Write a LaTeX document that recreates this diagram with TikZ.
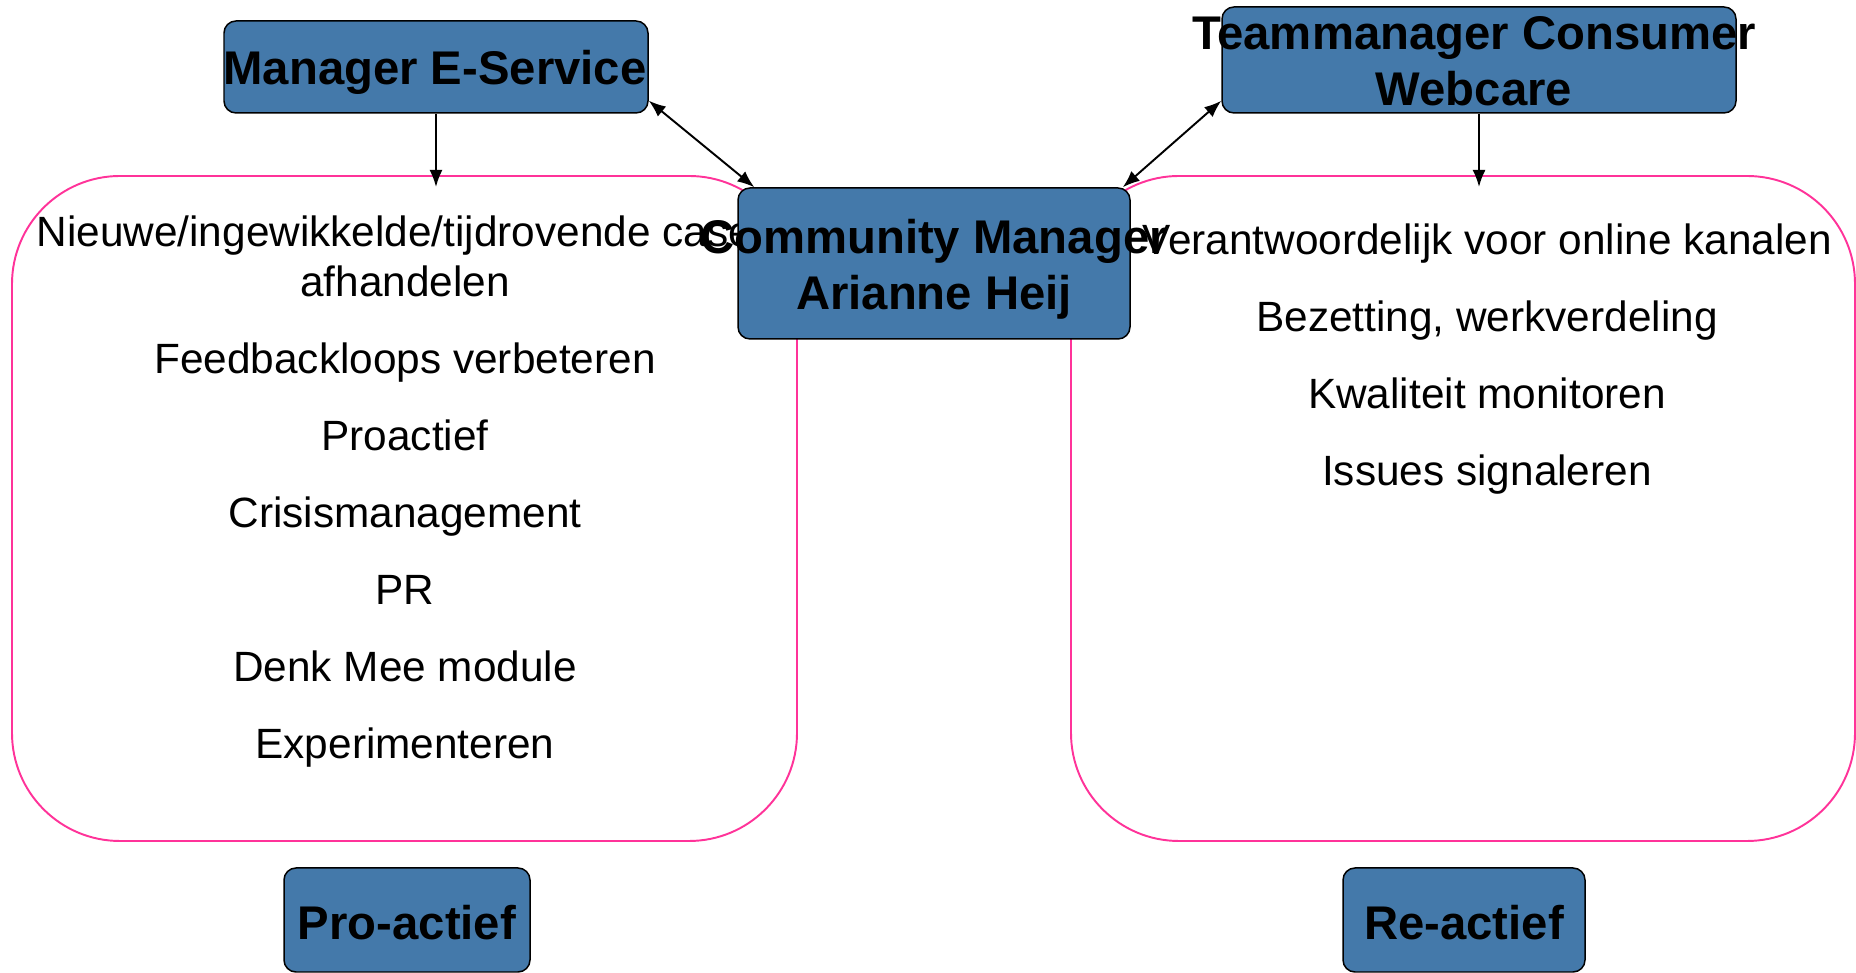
\documentclass[tikz,border=0pt]{standalone}
\usepackage{fontspec}
\setmainfont{Liberation Sans}
\usetikzlibrary{arrows.meta}
\definecolor{boxblue}{RGB}{68,121,170}
\definecolor{boxpink}{RGB}{255,51,153}
\begin{document}
\begin{tikzpicture}[
	role/.style={
		rectangle,
		rounded corners=0.24cm,
		draw=black,
		line width=0.85pt,
		fill=boxblue,
		inner sep=0pt,
	},
	rolelabel/.style={
		anchor=base,
		align=center,
		inner sep=0pt,
		font=\fontsize{26.9}{32.4}\selectfont\bfseries,
	},
	area/.style={
		rectangle,
		rounded corners=2.16cm,
		draw=boxpink,
		line width=1.1pt,
		inner sep=0pt,
		minimum height=13.3cm,
	},
	task/.style={
		anchor=base,
		align=center,
		inner sep=0pt,
		font=\fontsize{24.1}{29}\selectfont,
	},
	link/.style={
		line width=1.1pt,
		-{Latex[length=0.34cm,width=0.26cm]},
	},
]
\useasboundingbox (0,0) rectangle (37.12,19.46);

\node[area, minimum width=15.7cm] (pro) at (8.09,9.29) {};
\node[area, minimum width=15.68cm] (re) at (29.26,9.29) {};

\node[task] (nic) at (8.10,13.52) {Nieuwe/ingewikkelde/tijdrovende cases\\ afhandelen};
\node[task] (fbl) at (8.10,11.98) {Feedbackloops verbeteren};
\node[task] (pa) at (8.10,10.44) {Proactief};
\node[task] (crm) at (8.10,8.90) {Crisismanagement};
\node[task] (pr) at (8.10,7.36) {PR};
\node[task] (dmm) at (8.10,5.82) {Denk Mee module};
\node[task] (exp) at (8.10,4.28) {Experimenteren};

\node[task] (vok) at (29.74,14.36) {Verantwoordelijk voor online kanalen};
\node[task] (bwv) at (29.74,12.82) {Bezetting, werkverdeling};
\node[task] (kmo) at (29.74,11.28) {Kwaliteit monitoren};
\node[task] (iss) at (29.74,9.74) {Issues signaleren};

\node[role, minimum width=8.48cm, minimum height=1.84cm] (es) at (8.72,18.12) {};
\node[rolelabel] (eslabel) at (8.70,17.76) {Manager E-Service};

\node[role, minimum width=10.28cm, minimum height=2.12cm] (tm) at (29.58,18.26) {};
\node[rolelabel] (tmlabel) at (29.48,17.34) {Teammanager Consumer\\ Webcare};

\node[role, minimum width=7.84cm, minimum height=3.02cm] (cm) at (18.68,14.19) {};
\node[rolelabel] (cmlabel) at (18.68,13.26) {Community Manager\\ Arianne Heij};

\node[role, minimum width=4.92cm, minimum height=2.08cm] (pb) at (8.14,1.06) {};
\node[rolelabel] (pblabel) at (8.14,0.66) {Pro-actief};
\node[role, minimum width=4.84cm, minimum height=2.08cm] (rb) at (29.28,1.06) {};
\node[rolelabel] (rblabel) at (29.28,0.66) {Re-actief};

\coordinate (protop) at (8.72,15.72);
\coordinate (retop) at (29.58,15.72);

\draw[link] (es.south) -- (protop);
\draw[link] (tm.south) -- (retop);
\draw[link, {Latex[length=0.34cm,width=0.26cm]}-{Latex[length=0.34cm,width=0.26cm]}] (es.-9) -- (cm.157);
\draw[link, {Latex[length=0.34cm,width=0.26cm]}-{Latex[length=0.34cm,width=0.26cm]}] (tm.189) -- (cm.22);

\end{tikzpicture}
\end{document}
